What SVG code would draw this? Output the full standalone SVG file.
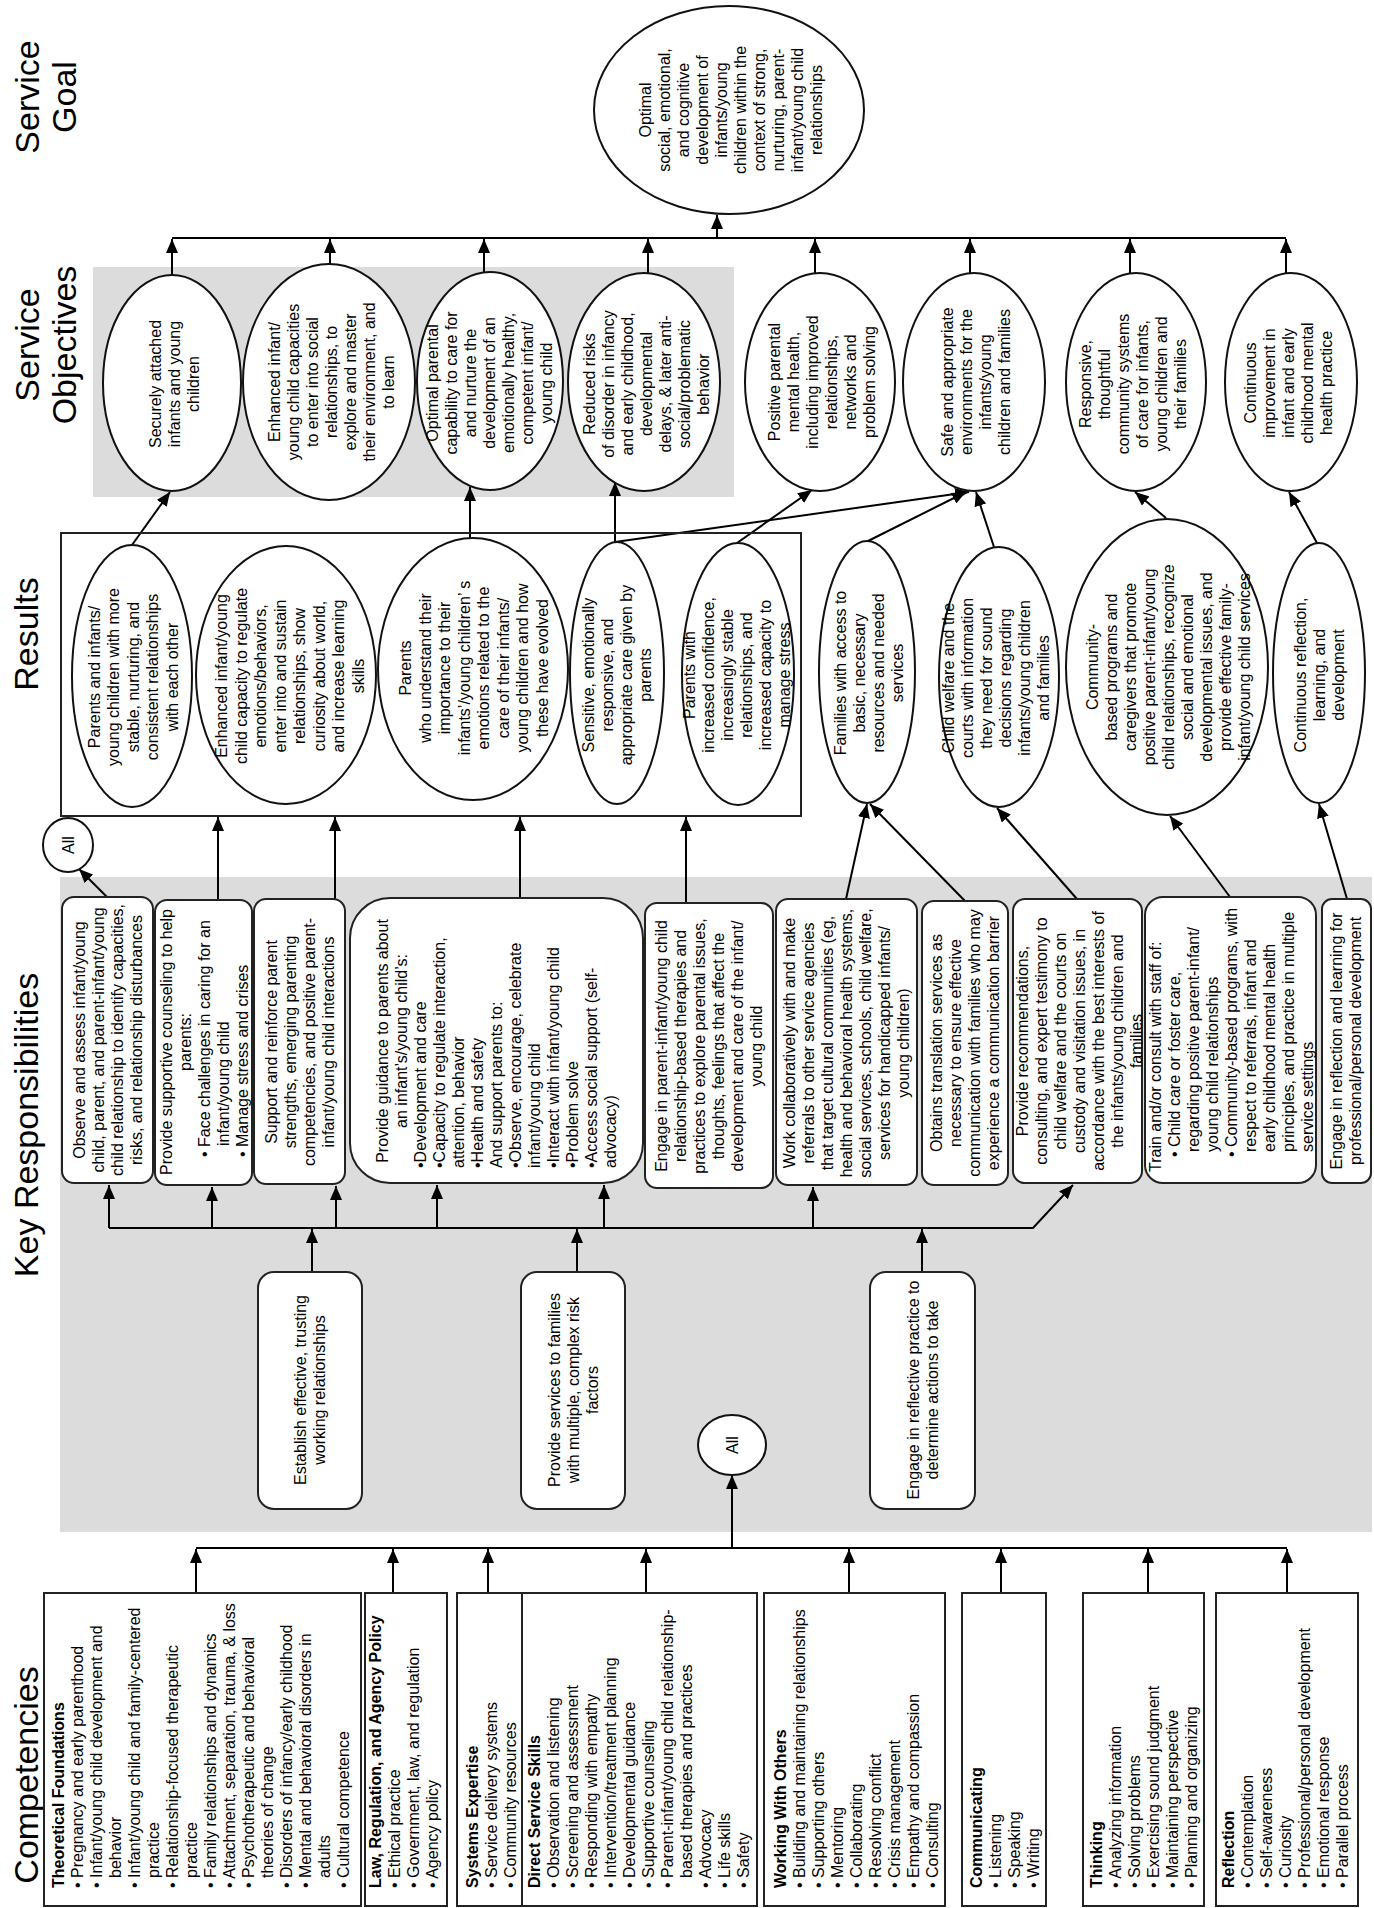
<svg xmlns="http://www.w3.org/2000/svg" width="1374" height="1908" viewBox="0 0 1374 1908">
<style>
.t{font-family:"Liberation Sans",Arial,sans-serif;font-size:16px;fill:#000}
.c{text-anchor:middle}
.b{font-weight:bold}
.h{font-size:34px}
.box{fill:#fff;stroke:#222;stroke-width:2}
.el{fill:#fff;stroke:#111;stroke-width:2}
.gray{fill:#dcdcdc}
.ln{fill:none;stroke:#000;stroke-width:2}
.arr{marker-end:url(#ah)}
</style>
<defs>
<marker id="ah" viewBox="0 0 14 12" refX="14" refY="6" markerWidth="14" markerHeight="12" markerUnits="userSpaceOnUse" orient="auto"><path d="M0,0 L14,6 L0,12 z" fill="#000"/></marker>
</defs>
<rect width="1374" height="1908" fill="#fff"/>
<rect class="gray" x="60" y="877" width="1312" height="655"/>
<rect class="gray" x="93" y="267" width="641" height="230"/>

<g id="headings">
<text class="t h c" transform="rotate(-90)"><tspan x="-97" y="39">Service</tspan><tspan x="-97" y="76">Goal</tspan></text>
<text class="t h c" transform="rotate(-90)"><tspan x="-345" y="39">Service</tspan><tspan x="-345" y="76">Objectives</tspan></text>
<text class="t h c" transform="rotate(-90)" x="-634" y="38">Results</text>
<text class="t h c" transform="rotate(-90)" x="-1125" y="38">Key Responsibilities</text>
<text class="t h c" transform="rotate(-90)" x="-1775" y="38">Competencies</text>
</g>

<g id="connectors">
<path class="ln" d="M196,1548 H1287"/>
<path class="ln arr" d="M196,1593 V1549"/>
<path class="ln arr" d="M393,1593 V1549"/>
<path class="ln arr" d="M488,1593 V1549"/>
<path class="ln arr" d="M646,1593 V1549"/>
<path class="ln arr" d="M849,1593 V1549"/>
<path class="ln arr" d="M1001,1593 V1549"/>
<path class="ln arr" d="M1148,1593 V1549"/>
<path class="ln arr" d="M1287,1593 V1549"/>
<path class="ln arr" d="M732,1548 V1475"/>
<path class="ln arr" d="M312,1272 V1229"/>
<path class="ln arr" d="M577,1272 V1229"/>
<path class="ln arr" d="M922,1272 V1229"/>
<path class="ln arr" d="M109,1228 H1033 L1073,1185"/>
<path class="ln arr" d="M109,1228 V1185"/>
<path class="ln arr" d="M212,1228 V1187"/>
<path class="ln arr" d="M336,1228 V1186"/>
<path class="ln arr" d="M437,1228 V1185"/>
<path class="ln arr" d="M604,1228 V1185"/>
<path class="ln arr" d="M813,1228 V1187"/>
<path class="ln arr" d="M107,897 L79,869"/>
<path class="ln arr" d="M218,900 V817"/>
<path class="ln arr" d="M335,899 V817"/>
<path class="ln arr" d="M520,898 V817"/>
<path class="ln arr" d="M686,903 V817"/>
<path class="ln arr" d="M846,899 L867,804"/>
<path class="ln arr" d="M965,901 L870,804"/>
<path class="ln arr" d="M1077,899 L997,808"/>
<path class="ln arr" d="M1230,897 L1170,816"/>
<path class="ln arr" d="M1347,899 L1319,804"/>
<path class="ln arr" d="M132,545 L170,492"/>
<path class="ln arr" d="M470,538 V487"/>
<path class="ln arr" d="M615,542 V482"/>
<path class="ln arr" d="M615,542 L969,492"/>
<path class="ln arr" d="M737,543 L812,490"/>
<path class="ln arr" d="M868,541 L966,492"/>
<path class="ln arr" d="M994,547 L976,492"/>
<path class="ln arr" d="M1166,518 L1135,492"/>
<path class="ln arr" d="M1317,543 L1289,492"/>
<path class="ln" d="M172,238 H1286"/>
<path class="ln arr" d="M172,275 V239"/>
<path class="ln arr" d="M330,264 V239"/>
<path class="ln arr" d="M484,272 V239"/>
<path class="ln arr" d="M648,273 V239"/>
<path class="ln arr" d="M815,273 V239"/>
<path class="ln arr" d="M970,273 V239"/>
<path class="ln arr" d="M1130,273 V239"/>
<path class="ln arr" d="M1286,273 V239"/>
<path class="ln arr" d="M717,238 V215"/>
</g>

<g id="goal">
<ellipse class="el" cx="729" cy="110" rx="135" ry="104"/>
<text class="t c" transform="rotate(-90)"><tspan x="-110" y="651">Optimal</tspan><tspan x="-110" y="670">social, emotional,</tspan><tspan x="-110" y="689">and cognitive</tspan><tspan x="-110" y="708">development of</tspan><tspan x="-110" y="727">infants/young</tspan><tspan x="-110" y="746">children within the</tspan><tspan x="-110" y="765">context of strong,</tspan><tspan x="-110" y="784">nurturing, parent-</tspan><tspan x="-110" y="803">infant/young child</tspan><tspan x="-110" y="822">relationships</tspan></text>
</g>

<g id="obj1">
<ellipse class="el" cx="172" cy="383" rx="69" ry="108"/>
<text class="t c" transform="rotate(-90)"><tspan x="-384" y="160.5">Securely attached</tspan><tspan x="-384" y="179.5">infants and young</tspan><tspan x="-384" y="198.5">children</tspan></text>
</g>
<g id="obj2">
<ellipse class="el" cx="329" cy="382" rx="86" ry="118"/>
<text class="t c" transform="rotate(-90)"><tspan x="-382" y="279.5">Enhanced infant/</tspan><tspan x="-382" y="298.5">young child capacities</tspan><tspan x="-382" y="317.5">to enter into social</tspan><tspan x="-382" y="336.5">relationships, to</tspan><tspan x="-382" y="355.5">explore and master</tspan><tspan x="-382" y="374.5">their environment, and</tspan><tspan x="-382" y="393.5">to learn</tspan></text>
</g>
<g id="obj3">
<ellipse class="el" cx="490" cy="381" rx="73" ry="109"/>
<text class="t c" transform="rotate(-90)"><tspan x="-383" y="437.5">Optimal parental</tspan><tspan x="-383" y="456.5">capability to care for</tspan><tspan x="-383" y="475.5">and nurture the</tspan><tspan x="-383" y="494.5">development of an</tspan><tspan x="-383" y="513.5">emotionally healthy,</tspan><tspan x="-383" y="532.5">competent infant/</tspan><tspan x="-383" y="551.5">young child</tspan></text>
</g>
<g id="obj4">
<ellipse class="el" cx="644" cy="382" rx="76" ry="109"/>
<text class="t c" transform="rotate(-90)"><tspan x="-384" y="594.5">Reduced risks</tspan><tspan x="-384" y="613.5">of disorder in infancy</tspan><tspan x="-384" y="632.5">and early childhood,</tspan><tspan x="-384" y="651.5">developmental</tspan><tspan x="-384" y="670.5">delays, &amp; later anti-</tspan><tspan x="-384" y="689.5">social/problematic</tspan><tspan x="-384" y="708.5">behavior</tspan></text>
</g>
<g id="obj5">
<ellipse class="el" cx="820" cy="382" rx="75" ry="109"/>
<text class="t c" transform="rotate(-90)"><tspan x="-382" y="780">Positive parental</tspan><tspan x="-382" y="799">mental health,</tspan><tspan x="-382" y="818">including improved</tspan><tspan x="-382" y="837">relationships,</tspan><tspan x="-382" y="856">networks and</tspan><tspan x="-382" y="875">problem solving</tspan></text>
</g>
<g id="obj6">
<ellipse class="el" cx="974" cy="382" rx="71" ry="109"/>
<text class="t c" transform="rotate(-90)"><tspan x="-382" y="953">Safe and appropriate</tspan><tspan x="-382" y="972">environments for the</tspan><tspan x="-382" y="991">infants/young</tspan><tspan x="-382" y="1010">children and families</tspan></text>
</g>
<g id="obj7">
<ellipse class="el" cx="1136" cy="382" rx="70" ry="109"/>
<text class="t c" transform="rotate(-90)"><tspan x="-384" y="1091">Responsive,</tspan><tspan x="-384" y="1110">thoughtful</tspan><tspan x="-384" y="1129">community systems</tspan><tspan x="-384" y="1148">of care for infants,</tspan><tspan x="-384" y="1167">young children and</tspan><tspan x="-384" y="1186">their families</tspan></text>
</g>
<g id="obj8">
<ellipse class="el" cx="1291" cy="382" rx="66" ry="109"/>
<text class="t c" transform="rotate(-90)"><tspan x="-383" y="1255.5">Continuous</tspan><tspan x="-383" y="1274.5">improvement in</tspan><tspan x="-383" y="1293.5">infant  and early</tspan><tspan x="-383" y="1312.5">childhood mental</tspan><tspan x="-383" y="1331.5">health practice</tspan></text>
</g>

<g id="results-frame">
<rect x="61" y="533" width="740" height="283" fill="none" stroke="#222" stroke-width="2"/>
</g>
<g id="res1">
<ellipse class="el" cx="132" cy="676" rx="60" ry="131"/>
<text class="t c" transform="rotate(-90)"><tspan x="-677" y="99.5">Parents and infants/</tspan><tspan x="-677" y="119">young children with more</tspan><tspan x="-677" y="138.5">stable, nurturing, and</tspan><tspan x="-677" y="158">consistent relationships</tspan><tspan x="-677" y="177.5">with each other</tspan></text>
</g>
<g id="res2">
<ellipse class="el" cx="286" cy="675" rx="90" ry="129"/>
<text class="t c" transform="rotate(-90)"><tspan x="-676" y="227.3">Enhanced infant/young</tspan><tspan x="-676" y="246.8">child capacity to regulate</tspan><tspan x="-676" y="266.3">emotions/behaviors,</tspan><tspan x="-676" y="285.8">enter into and sustain</tspan><tspan x="-676" y="305.3">relationships, show</tspan><tspan x="-676" y="324.8">curiosity about world,</tspan><tspan x="-676" y="344.3">and increase learning</tspan><tspan x="-676" y="363.8">skills</tspan></text>
</g>
<g id="res3">
<ellipse class="el" cx="473" cy="669" rx="95" ry="131"/>
<text class="t c" transform="rotate(-90)"><tspan x="-668" y="411.3">Parents</tspan><tspan x="-668" y="430.8">who understand their</tspan><tspan x="-668" y="450.3">importance to their</tspan><tspan x="-668" y="469.8">infants’/young children’ s</tspan><tspan x="-668" y="489.3">emotions related to the</tspan><tspan x="-668" y="508.8">care of their infants/</tspan><tspan x="-668" y="528.3">young  children and how</tspan><tspan x="-668" y="547.8">these have evolved</tspan></text>
</g>
<g id="res4">
<ellipse class="el" cx="617" cy="673" rx="47" ry="131"/>
<text class="t c" transform="rotate(-90)"><tspan x="-675" y="594">Sensitive, emotionally</tspan><tspan x="-675" y="613">responsive, and</tspan><tspan x="-675" y="632">appropriate care given by</tspan><tspan x="-675" y="651">parents</tspan></text>
</g>
<g id="res5">
<ellipse class="el" cx="738" cy="674" rx="56" ry="131"/>
<text class="t c" transform="rotate(-90)"><tspan x="-675" y="695">Parents with</tspan><tspan x="-675" y="714">increased confidence,</tspan><tspan x="-675" y="733">increasingly stable</tspan><tspan x="-675" y="752">relationships, and</tspan><tspan x="-675" y="771">increased capacity to</tspan><tspan x="-675" y="790">manage stress</tspan></text>
</g>
<g id="res6">
<ellipse class="el" cx="867" cy="672" rx="48" ry="131"/>
<text class="t c" transform="rotate(-90)"><tspan x="-673" y="846">Families with access to</tspan><tspan x="-673" y="865">basic, necessary</tspan><tspan x="-673" y="884">resources and needed</tspan><tspan x="-673" y="903">services</tspan></text>
</g>
<g id="res7">
<ellipse class="el" cx="999" cy="677" rx="60" ry="130"/>
<text class="t c" transform="rotate(-90)"><tspan x="-678" y="954">Child welfare and the</tspan><tspan x="-678" y="973">courts with information</tspan><tspan x="-678" y="992">they need for sound</tspan><tspan x="-678" y="1011">decisions regarding</tspan><tspan x="-678" y="1030">infants/young children</tspan><tspan x="-678" y="1049">and families</tspan></text>
</g>
<g id="res8">
<ellipse class="el" cx="1167" cy="667" rx="101" ry="148"/>
<text class="t c" transform="rotate(-90)"><tspan x="-667" y="1097.5">Community-</tspan><tspan x="-667" y="1116.5">based programs and</tspan><tspan x="-667" y="1135.5">caregivers that promote</tspan><tspan x="-667" y="1154.5">positive parent-infant/young</tspan><tspan x="-667" y="1173.5">child relationships, recognize</tspan><tspan x="-667" y="1192.5">social and emotional</tspan><tspan x="-667" y="1211.5">developmental issues, and</tspan><tspan x="-667" y="1230.5">provide effective family-</tspan><tspan x="-667" y="1249.5">infant/young child services</tspan></text>
</g>
<g id="res9">
<ellipse class="el" cx="1319" cy="673" rx="46" ry="130"/>
<text class="t c" transform="rotate(-90)"><tspan x="-675" y="1305.5">Continuous reflection,</tspan><tspan x="-675" y="1324.5">learning, and</tspan><tspan x="-675" y="1343.5">development</tspan></text>
</g>
<g id="all-results">
<ellipse class="el" cx="68" cy="845" rx="25" ry="27"/>
<text class="t c" transform="rotate(-90)" x="-845" y="73.5">All</text>
</g>

<g id="kr-observe">
<rect class="box" x="62" y="897" width="91" height="286" rx="12"/>
<text class="t c" transform="rotate(-90)"><tspan x="-1040" y="84.5">Observe and assess infant/young</tspan><tspan x="-1040" y="103.5">child, parent, and parent-infant/young</tspan><tspan x="-1040" y="122.5">child relationship to identify capacities,</tspan><tspan x="-1040" y="141.5">risks, and relationship disturbances</tspan></text>
</g>
<g id="kr-counseling">
<rect class="box" x="155" y="900" width="97" height="285" rx="12"/>
<text class="t" transform="rotate(-90)"><tspan class="c" x="-1042" y="171.5">Provide supportive counseling to help</tspan><tspan class="c" x="-1042" y="190.5">parents:</tspan><tspan x="-1157" y="209.5">• Face challenges in caring for an</tspan><tspan x="-1146" y="228.5">infant/young child</tspan><tspan x="-1157" y="247.5">• Manage stress and crises</tspan></text>
</g>
<g id="kr-support">
<rect class="box" x="254" y="899" width="91" height="285" rx="12"/>
<text class="t c" transform="rotate(-90)"><tspan x="-1042" y="276.5">Support and reinforce parent</tspan><tspan x="-1042" y="295.5">strengths, emerging parenting</tspan><tspan x="-1042" y="314.5">competencies, and positive parent-</tspan><tspan x="-1042" y="333.5">infant/young child interactions</tspan></text>
</g>
<g id="kr-guidance">
<rect class="box" x="350" y="898" width="293" height="285" rx="40"/>
<text class="t" transform="rotate(-90)"><tspan class="c" x="-1041" y="387.5">Provide guidance to parents about</tspan><tspan class="c" x="-1041" y="406.5">an infant’s/young child’s:</tspan><tspan x="-1168" y="425.5">•Development and care</tspan><tspan x="-1168" y="444.5">•Capacity to regulate interaction,</tspan><tspan x="-1168" y="463.5">attention, behavior</tspan><tspan x="-1168" y="482.5">•Health and safety</tspan><tspan x="-1168" y="501.5">And support parents to:</tspan><tspan x="-1168" y="520.5">•Observe, encourage, celebrate</tspan><tspan x="-1168" y="539.5">infant/young child</tspan><tspan x="-1168" y="558.5">•Interact with infant/young child</tspan><tspan x="-1168" y="577.5">•Problem solve</tspan><tspan x="-1168" y="596.5">•Access social support (self-</tspan><tspan x="-1168" y="615.5">advocacy)</tspan></text>
</g>
<g id="kr-therapies">
<rect class="box" x="645" y="903" width="128" height="285" rx="12"/>
<text class="t c" transform="rotate(-90)"><tspan x="-1046" y="667">Engage in parent-infant/young child</tspan><tspan x="-1046" y="686">relationship-based therapies and</tspan><tspan x="-1046" y="705">practices to explore parental issues,</tspan><tspan x="-1046" y="724">thoughts, feelings that affect the</tspan><tspan x="-1046" y="743">development and care of the infant/</tspan><tspan x="-1046" y="762">young child</tspan></text>
</g>
<g id="kr-collab">
<rect class="box" x="776" y="899" width="141" height="286" rx="12"/>
<text class="t c" transform="rotate(-90)"><tspan x="-1043" y="795">Work collaboratively with and make</tspan><tspan x="-1043" y="814">referrals to other service agencies</tspan><tspan x="-1043" y="833">that target cultural communities (eg,</tspan><tspan x="-1043" y="852">health and behavioral health systems,</tspan><tspan x="-1043" y="871">social services, schools, child welfare,</tspan><tspan x="-1043" y="890">services for handicapped infants/</tspan><tspan x="-1043" y="909">young children)</tspan></text>
</g>
<g id="kr-translation">
<rect class="box" x="922" y="901" width="86" height="284" rx="12"/>
<text class="t c" transform="rotate(-90)"><tspan x="-1043" y="942">Obtains translation services as</tspan><tspan x="-1043" y="961">necessary to ensure effective</tspan><tspan x="-1043" y="980">communication with families who may</tspan><tspan x="-1043" y="999">experience a communication barrier</tspan></text>
</g>
<g id="kr-recommend">
<rect class="box" x="1013" y="899" width="129" height="284" rx="12"/>
<text class="t c" transform="rotate(-90)"><tspan x="-1041" y="1027.5">Provide recommendations,</tspan><tspan x="-1041" y="1046.5">consulting, and expert testimony to</tspan><tspan x="-1041" y="1065.5">child welfare and the courts on</tspan><tspan x="-1041" y="1084.5">custody and visitation issues, in</tspan><tspan x="-1041" y="1103.5">accordance with the best interests of</tspan><tspan x="-1041" y="1122.5">the infants/young children and</tspan><tspan x="-1041" y="1141.5">families</tspan></text>
</g>
<g id="kr-train">
<rect class="box" x="1145" y="897" width="171" height="286" rx="18"/>
<text class="t" transform="rotate(-90)"><tspan x="-1172" y="1160.5">Train and/or consult with staff of:</tspan><tspan x="-1157" y="1179.5">• Child care or foster care,</tspan><tspan x="-1152" y="1198.5">regarding positive parent-infant/</tspan><tspan x="-1152" y="1217.5">young child relationships</tspan><tspan x="-1157" y="1236.5">• Community-based programs, with</tspan><tspan x="-1152" y="1255.5">respect to referrals, infant and</tspan><tspan x="-1152" y="1274.5">early childhood mental health</tspan><tspan x="-1152" y="1293.5">principles, and practice in multiple</tspan><tspan x="-1152" y="1312.5">service settings</tspan></text>
</g>
<g id="kr-reflection">
<rect class="box" x="1322" y="899" width="49" height="284" rx="10"/>
<text class="t c" transform="rotate(-90)"><tspan x="-1041" y="1342">Engage in reflection and learning for</tspan><tspan x="-1041" y="1361">professional/personal development</tspan></text>
</g>
<g id="kr-establish">
<rect class="box" x="258" y="1272" width="104" height="237" rx="16"/>
<text class="t c" transform="rotate(-90)"><tspan x="-1390" y="306">Establish effective, trusting</tspan><tspan x="-1390" y="325">working relationships</tspan></text>
</g>
<g id="kr-services">
<rect class="box" x="521" y="1272" width="104" height="237" rx="16"/>
<text class="t c" transform="rotate(-90)"><tspan x="-1390" y="559.5">Provide services to families</tspan><tspan x="-1390" y="578.5">with multiple, complex risk</tspan><tspan x="-1390" y="597.5">factors</tspan></text>
</g>
<g id="kr-reflective">
<rect class="box" x="870" y="1272" width="105" height="237" rx="16"/>
<text class="t c" transform="rotate(-90)"><tspan x="-1390" y="918.5">Engage in reflective practice to</tspan><tspan x="-1390" y="937.5">determine actions to take</tspan></text>
</g>
<g id="all-competencies">
<ellipse class="el" cx="732" cy="1445" rx="34" ry="30"/>
<text class="t c" transform="rotate(-90)" x="-1445" y="737.5">All</text>
</g>

<g id="comp-theory">
<rect class="box" x="44" y="1593" width="317" height="313"/>
<text class="t" transform="rotate(-90)"><tspan class="b" x="-1888" y="64">Theoretical Foundations</tspan><tspan x="-1888" y="83">• Pregnancy and early parenthood</tspan><tspan x="-1888" y="102">• Infant/young child development and</tspan><tspan x="-1878" y="121">behavior</tspan><tspan x="-1888" y="140">• Infant/young child and family-centered</tspan><tspan x="-1878" y="159">practice</tspan><tspan x="-1888" y="178">• Relationship-focused therapeutic</tspan><tspan x="-1878" y="197">practice</tspan><tspan x="-1888" y="216">• Family relationships and dynamics</tspan><tspan x="-1888" y="235">• Attachment, separation, trauma, &amp; loss</tspan><tspan x="-1888" y="254">• Psychotherapeutic and behavioral</tspan><tspan x="-1878" y="273">theories of change</tspan><tspan x="-1888" y="292">• Disorders of infancy/early childhood</tspan><tspan x="-1888" y="311">• Mental and behavioral disorders in</tspan><tspan x="-1878" y="330">adults</tspan><tspan x="-1888" y="349">• Cultural competence</tspan></text>
</g>
<g id="comp-law">
<rect class="box" x="365" y="1593" width="82" height="313"/>
<text class="t" transform="rotate(-90)"><tspan class="b" x="-1888" y="381">Law, Regulation, and Agency Policy</tspan><tspan x="-1888" y="400">• Ethical practice</tspan><tspan x="-1888" y="419">• Government, law, and regulation</tspan><tspan x="-1888" y="438">• Agency policy</tspan></text>
</g>
<g id="comp-systems-direct">
<rect class="box" x="457" y="1593" width="300" height="313"/>
<line x1="522" y1="1593" x2="522" y2="1906" stroke="#222" stroke-width="2"/>
<text class="t" transform="rotate(-90)"><tspan class="b" x="-1888" y="478">Systems Expertise</tspan><tspan x="-1888" y="497">• Service delivery systems</tspan><tspan x="-1888" y="516">• Community resources</tspan></text>
<text class="t" transform="rotate(-90)"><tspan class="b" x="-1888" y="540">Direct Service Skills</tspan><tspan x="-1888" y="559">• Observation and listening</tspan><tspan x="-1888" y="578">• Screening and assessment</tspan><tspan x="-1888" y="597">• Responding with empathy</tspan><tspan x="-1888" y="616">• Intervention/treatment planning</tspan><tspan x="-1888" y="635">• Developmental guidance</tspan><tspan x="-1888" y="654">• Supportive counseling</tspan><tspan x="-1888" y="673">• Parent-infant/young child relationship-</tspan><tspan x="-1878" y="692">based therapies and practices</tspan><tspan x="-1888" y="711">• Advocacy</tspan><tspan x="-1888" y="730">• Life skills</tspan><tspan x="-1888" y="749">• Safety</tspan></text>
</g>
<g id="comp-others">
<rect class="box" x="764" y="1593" width="181" height="313"/>
<text class="t" transform="rotate(-90)"><tspan class="b" x="-1888" y="786">Working With Others</tspan><tspan x="-1888" y="805">• Building and maintaining relationships</tspan><tspan x="-1888" y="824">• Supporting others</tspan><tspan x="-1888" y="843">• Mentoring</tspan><tspan x="-1888" y="862">• Collaborating</tspan><tspan x="-1888" y="881">• Resolving conflict</tspan><tspan x="-1888" y="900">• Crisis management</tspan><tspan x="-1888" y="919">• Empathy and compassion</tspan><tspan x="-1888" y="938">• Consulting</tspan></text>
</g>
<g id="comp-communicating">
<rect class="box" x="962" y="1593" width="84" height="313"/>
<text class="t" transform="rotate(-90)"><tspan class="b" x="-1888" y="982">Communicating</tspan><tspan x="-1888" y="1001">• Listening</tspan><tspan x="-1888" y="1020">• Speaking</tspan><tspan x="-1888" y="1039">• Writing</tspan></text>
</g>
<g id="comp-thinking">
<rect class="box" x="1083" y="1593" width="121" height="313"/>
<text class="t" transform="rotate(-90)"><tspan class="b" x="-1888" y="1102">Thinking</tspan><tspan x="-1888" y="1121">• Analyzing information</tspan><tspan x="-1888" y="1140">• Solving problems</tspan><tspan x="-1888" y="1159">• Exercising sound judgment</tspan><tspan x="-1888" y="1178">• Maintaining perspective</tspan><tspan x="-1888" y="1197">• Planning and organizing</tspan></text>
</g>
<g id="comp-reflection">
<rect class="box" x="1216" y="1593" width="142" height="313"/>
<text class="t" transform="rotate(-90)"><tspan class="b" x="-1888" y="1234">Reflection</tspan><tspan x="-1888" y="1253">• Contemplation</tspan><tspan x="-1888" y="1272">• Self-awareness</tspan><tspan x="-1888" y="1291">• Curiosity</tspan><tspan x="-1888" y="1310">• Professional/personal development</tspan><tspan x="-1888" y="1329">• Emotional response</tspan><tspan x="-1888" y="1348">• Parallel process</tspan></text>
</g>
</svg>
